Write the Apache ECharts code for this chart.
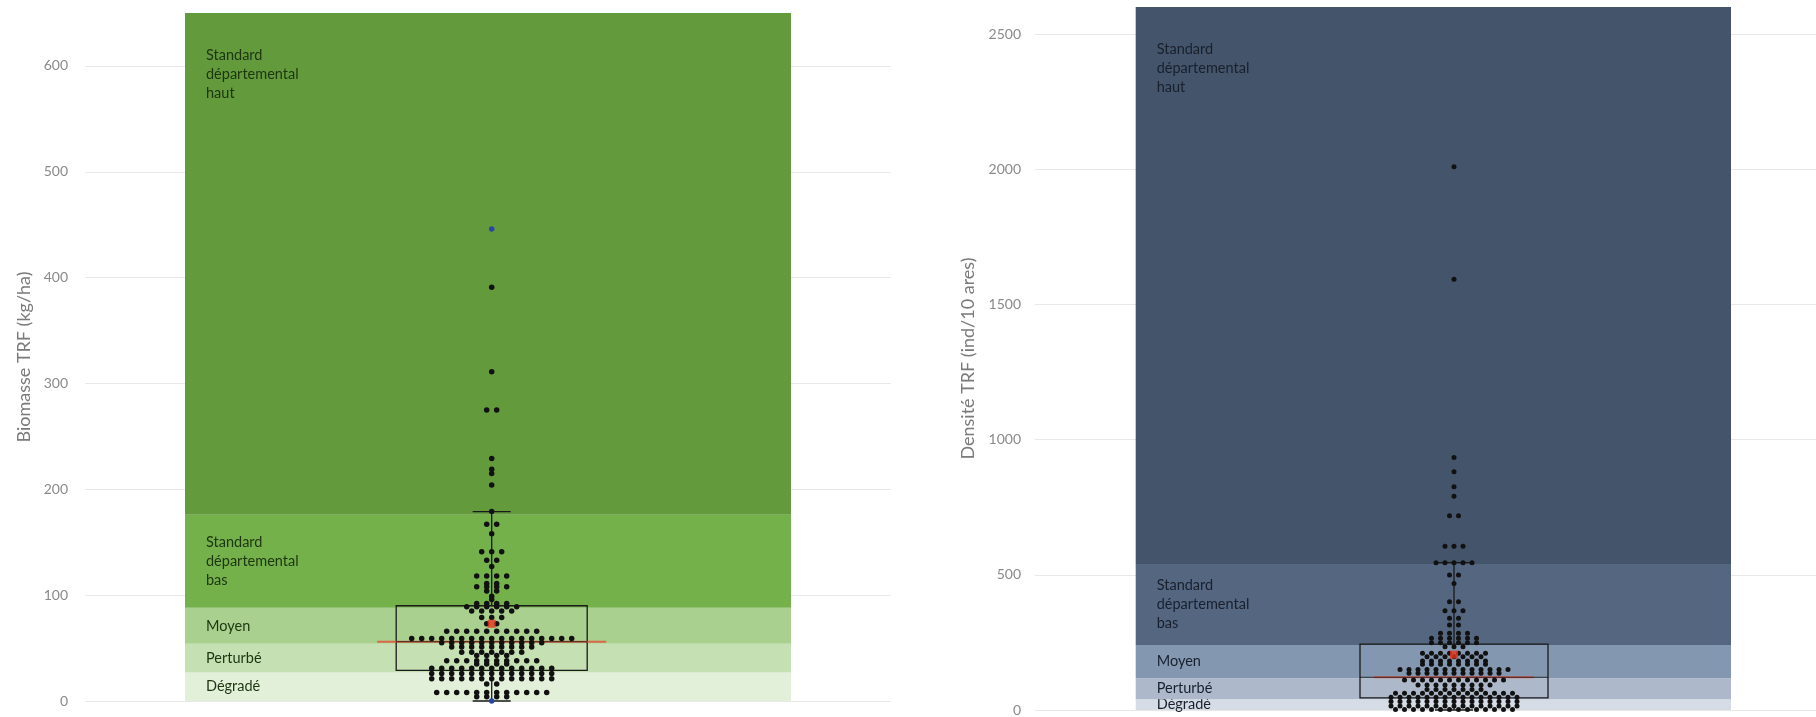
<!DOCTYPE html>
<html><head><meta charset="utf-8">
<script src="https://cdn.jsdelivr.net/npm/echarts@6/dist/echarts.min.js"></script>
<style>html,body{margin:0;padding:0;background:#fff}#c{width:1816px;height:717px}</style>
</head><body><div id="c"></div>
<script>
// ---------- DATA ----------
const bandNames = ['Dégradé', 'Perturbé', 'Moyen', 'Standard\ndépartemental\nbas', 'Standard\ndépartemental\nhaut'];
const biomasseBounds = [0, 27, 54, 88, 176, 650];
const densiteBounds = [0, 40, 117, 240, 540, 2600];
// lo whisker, Q1, median, Q3, hi whisker, mean
const biomasseStats = [0, 29, 56, 90, 179, 73];
const densiteStats = [0, 45, 121, 244, 545, 205];
const biomasseValues = [
  446, 391, 311, 275, 275, 229, 219, 215, 204, 179, 167, 167, 158, 141, 141, 141, 133, 133, 127,
  118, 118, 118, 118, 111, 111, 108, 108, 108, 108, 104, 104, 99, 96,
  92, 92, 92, 92, 89, 89, 89, 89, 89, 89, 85, 85, 85, 85, 85, 79, 79, 79, 73, 73,
  66, 66, 66, 66, 66, 66, 66, 66, 66, 66,
  59, 59, 59, 59, 59, 59, 59, 59, 59, 59, 59, 59, 59, 59, 59, 59, 59,
  55, 55, 55, 55, 55, 55, 55, 55, 55, 55, 55,
  51, 51, 51, 51, 51, 51, 51, 51, 51,
  46, 46, 46, 46, 46, 46, 46, 43, 43, 43, 43,
  38, 38, 38, 38, 38, 38, 38, 38, 38, 38, 35, 35, 35, 35,
  31, 31, 31, 31, 31, 31, 31, 31, 31, 31, 31, 31, 31,
  26, 26, 26, 26, 26, 26, 26, 26, 26, 26, 26, 26, 26,
  21, 21, 21, 21, 21, 21, 21, 21, 21, 21, 21, 21, 21,
  16, 16, 8, 8, 8, 8, 8, 8, 8, 8, 8, 8, 8, 8, 4, 4, 4, 4, 0
];
const densiteValues = [
  2009, 1593, 934, 881, 826, 791, 718, 718, 606, 606, 606, 545, 545, 545, 545, 545,
  499, 499, 468, 400, 400, 367, 367, 367, 339, 339, 314, 314, 284, 284, 284, 284,
  265, 265, 265, 265, 265, 265, 249, 249, 249, 249, 249, 249, 234, 234, 234,
  210, 210, 210, 210, 210, 210, 210, 210, 197, 197, 197, 197, 197, 197, 197,
  181, 181, 181, 181, 181, 181, 181, 181, 169, 169, 169, 169, 169, 169, 169, 169,
  150, 150, 150, 150, 150, 150, 150, 150, 150, 150, 150, 150, 150,
  136, 136, 136, 136, 136, 136, 136, 136, 136, 136, 136,
  111, 111, 111, 111, 111, 111, 111, 111, 111, 111, 111, 111,
  92, 92, 92, 92, 92, 92, 92, 92, 92, 76, 76, 76, 76, 76, 76, 76,
  62, 62, 62, 62, 62, 62, 62, 62, 62, 62, 62, 62, 62, 62,
  47, 47, 47, 47, 47, 47, 47, 47, 47, 47, 47, 47, 47, 47, 47,
  31, 31, 31, 31, 31, 31, 31, 31, 31, 31, 31, 31, 31, 31, 31,
  15, 15, 15, 15, 15, 15, 15, 15, 15, 15, 15, 15, 15, 15, 15,
  2, 2, 2, 2, 2, 2, 2, 2, 2, 2, 2, 2, 2, 2
];

// ---------- STYLE ----------
const greens = ['#e2efd9', '#c5e0b3', '#a9d08e', '#74b14b', '#639a3c'];
const blues = ['#d6dce5', '#adb9ca', '#8497b0', '#546680', '#44546a'];
const FONT = 'Lato, "Open Sans", sans-serif';

function swarm(values, step) {
  const counts = new Map();
  values.forEach(v => counts.set(v, (counts.get(v) || 0) + 1));
  const out = [];
  counts.forEach((n, v) => { for (let i = 0; i < n; i++) out.push([(i - (n - 1) / 2) * step, v]); });
  return out;
}

// bands drawn in the value-x coordinate system (x unit = 1px, 0 = swarm centre)
function bandSeries(bounds, colors, textColor, gi, xL, xR) {
  const data = bandNames.map((name, i) => [bounds[i], bounds[i + 1], i]);
  return {
    type: 'custom', xAxisIndex: gi, yAxisIndex: gi, silent: true, z: 1,
    data: data,
    renderItem: function (params, api) {
      const i = api.value(2);
      const p0 = api.coord([xL, api.value(0)]);
      const p1 = api.coord([xR, api.value(1)]);
      const top = i === 4;
      return { type: 'group', children: [
        { type: 'rect', shape: { x: p0[0], y: p1[1], width: p1[0] - p0[0], height: p0[1] - p1[1] },
          style: { fill: colors[i] } },
        { type: 'text', x: p0[0] + 21, y: top ? p1[1] + 33 : (p0[1] + p1[1]) / 2,
          style: { text: bandNames[i], fill: textColor, fontFamily: FONT, fontSize: 14.5, lineHeight: 19,
            align: 'left', verticalAlign: top ? 'top' : 'middle' } }
      ]};
    }
  };
}

function boxSeries(stats, gi, boxHalf, capHalf, medHalf) {
  return {
    type: 'custom', xAxisIndex: gi, yAxisIndex: gi, silent: true, z: 3,
    data: [[0].concat(stats)],
    renderItem: function (params, api) {
      const c = v => api.coord([0, v]);
      const lo = c(api.value(1)), q1 = c(api.value(2)), md = c(api.value(3)), q3 = c(api.value(4)), hi = c(api.value(5));
      const x = lo[0];
      const ls = { stroke: '#1a1a1a', lineWidth: 1.3, fill: null };
      return { type: 'group', children: [
        { type: 'line', shape: { x1: x, y1: lo[1], x2: x, y2: q1[1] }, style: ls },
        { type: 'line', shape: { x1: x, y1: q3[1], x2: x, y2: hi[1] }, style: ls },
        { type: 'line', shape: { x1: x - capHalf, y1: lo[1], x2: x + capHalf, y2: lo[1] }, style: ls },
        { type: 'line', shape: { x1: x - capHalf, y1: hi[1], x2: x + capHalf, y2: hi[1] }, style: ls },
        { type: 'rect', shape: { x: x - boxHalf, y: q3[1], width: boxHalf * 2, height: q1[1] - q3[1] }, style: ls },
        { type: 'line', shape: { x1: x - medHalf, y1: md[1], x2: x + medHalf, y2: md[1] }, style: { stroke: 'rgba(235,70,50,0.75)', lineWidth: 2 } },
        { type: 'line', shape: { x1: x - boxHalf, y1: md[1], x2: x + boxHalf, y2: md[1] }, style: { stroke: 'rgba(20,20,20,0.8)', lineWidth: 1 } }
      ]};
    }
  };
}

function pointSeries(values, step, gi, size, highlight) {
  const pts = swarm(values, step);
  const mx = Math.max.apply(null, values), mn = Math.min.apply(null, values);
  return {
    type: 'scatter', xAxisIndex: gi, yAxisIndex: gi, silent: true, z: 4,
    symbolSize: size,
    data: pts.map(p => (highlight && (p[1] === mx || p[1] === mn)) ? { value: p, itemStyle: { color: '#2a45a8' } } : p),
    itemStyle: { color: '#111', opacity: 1 }
  };
}

function meanSeries(stats, gi) {
  return {
    type: 'scatter', xAxisIndex: gi, yAxisIndex: gi, silent: true, z: 5,
    symbol: 'rect', symbolSize: 8, data: [[0, stats[5]]], itemStyle: { color: '#e8341c' }
  };
}

const yAxisBase = (max, interval, name, margin, gap) => ({
  type: 'value', min: 0, max: max, interval: interval,
  name: name, nameLocation: 'middle', nameGap: gap, nameRotate: 90,
  nameTextStyle: { color: '#7a7a7a', fontSize: 18, fontFamily: FONT },
  axisLine: { show: false }, axisTick: { show: false },
  axisLabel: { color: '#8a8a8a', fontSize: 14, fontFamily: FONT, margin: margin, showMaxLabel: false,
    formatter: v => String(v) },
  splitLine: { show: true, showMaxLine: false, lineStyle: { color: '#e8e8e8', width: 1 } }
});

const chart = echarts.init(document.getElementById('c'), null, { renderer: 'canvas' });
chart.setOption({
  animation: false,
  backgroundColor: '#ffffff',
  grid: [
    { left: 85, top: 13, width: 806, height: 688 },
    { left: 1035, top: 7, width: 781, height: 703 }
  ],
  xAxis: [
    { type: 'value', gridIndex: 0, min: -406.7, max: 399.3, show: false },
    { type: 'value', gridIndex: 1, min: -419, max: 362, show: false }
  ],
  yAxis: [
    Object.assign(yAxisBase(650, 100, 'Biomasse TRF (kg/ha)', 17, 52), { gridIndex: 0 }),
    Object.assign(yAxisBase(2600, 500, 'Densité TRF (ind/10 ares)', 14, 58), { gridIndex: 1 })
  ],
  series: [
    bandSeries(biomasseBounds, greens, '#1d3510', 0, -306.7, 299.3),
    bandSeries(densiteBounds, blues, '#18202e', 1, -318.3, 277),
    boxSeries(biomasseStats, 0, 95.5, 19, 114.5),
    boxSeries(densiteStats, 1, 94, 19, 80),
    pointSeries(biomasseValues, 10, 0, 5.5, true),
    pointSeries(densiteValues, 9, 1, 5, false),
    meanSeries(biomasseStats, 0),
    meanSeries(densiteStats, 1)
  ]
});
</script>
</body></html>
